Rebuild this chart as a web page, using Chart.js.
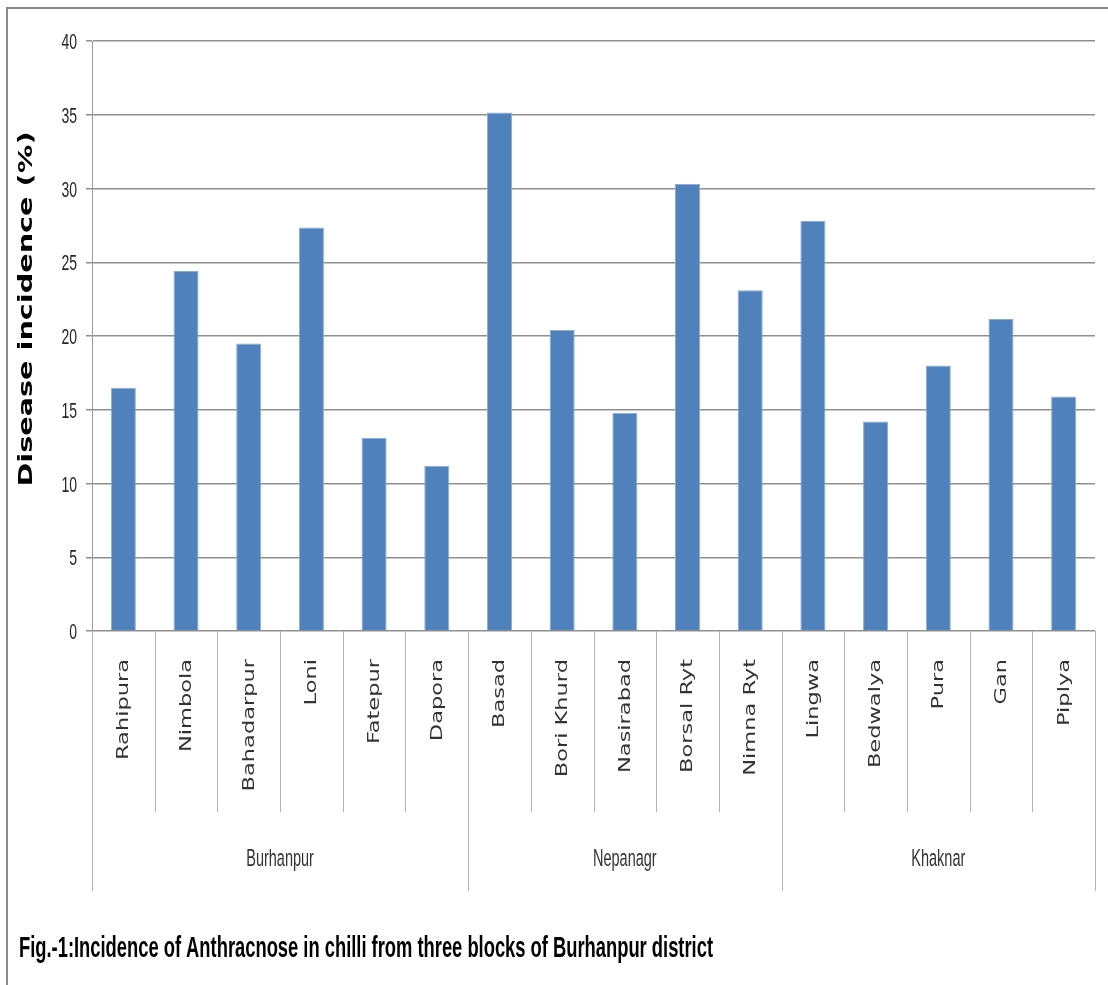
<!DOCTYPE html>
<html>
<head>
<meta charset="utf-8">
<title>Incidence of Anthracnose in chilli</title>
<script src="https://cdn.jsdelivr.net/npm/chart.js@4.4.1/dist/chart.umd.min.js"></script>
<style>
  html, body { margin: 0; padding: 0; background: #fff; }
  canvas { display: block; }
</style>
</head>
<body>
<canvas id="myChart" width="1108" height="985"></canvas>
<script>
// villages surveyed, in the order they appear on the chart
var villages = ["Rahipura", "Nimbola", "Bahadarpur", "Loni", "Fatepur", "Dapora",
                "Basad", "Bori Khurd", "Nasirabad", "Borsal Ryt", "Nimna Ryt",
                "Lingwa", "Bedwalya", "Pura", "Gan", "Piplya"];
// disease incidence (%)
var incidence = [16.5, 24.4, 19.5, 27.35, 13.1, 11.2,
                 35.15, 20.4, 14.8, 30.3, 23.1,
                 27.8, 14.2, 18.0, 21.15, 15.9];
// blocks and how many villages each block holds
var blocks = ["Burhanpur", "Nepanagr", "Khaknar"];
var blockSizes = [6, 5, 5];
var yTitle = "Disease incidence (%)";
var caption = "Fig.-1:Incidence of Anthracnose in chilli from three blocks of Burhanpur district";

// draws text with a stretch, the original figure is squashed sideways
function stretchText(ctx, text, x, y, o) {
	ctx.save();
	ctx.translate(x, y);
	if (o.rotate) ctx.rotate(o.rotate);
	ctx.font = o.font;
	var sx = o.sx || 1;
	if (o.fitWidth) sx = o.fitWidth / ctx.measureText(text).width;
	ctx.scale(sx, o.sy || 1);
	ctx.fillStyle = o.color || "#333";
	ctx.textAlign = o.align || "left";
	ctx.textBaseline = o.baseline || "alphabetic";
	ctx.fillText(text, 0, 0);
	ctx.restore();
}

var decorations = {
	id: "decorations",
	afterDraw: function(chart) {
		var ctx = chart.ctx;
		var xs = chart.scales.x;
		var ys = chart.scales.y;
		var area = chart.chartArea;

		// outer frame
		ctx.save();
		ctx.strokeStyle = "#8a8a8a";
		ctx.lineWidth = 2;
		ctx.beginPath();
		ctx.moveTo(7, 985);
		ctx.lineTo(7, 8);
		ctx.lineTo(1108, 8);
		ctx.stroke();
		ctx.restore();

		// y tick labels
		ys.ticks.forEach(function(t) {
			var py = ys.getPixelForValue(t.value);
			stretchText(ctx, String(t.value), 77, py + 8,
				{font: "14px 'Liberation Sans', Arial, sans-serif", sy: 1.6, align: "right", color: "#262626"});
		});

		// y title
		stretchText(ctx, yTitle, 32, 309,
			{font: "bold 20px 'DejaVu Sans', Verdana, sans-serif", rotate: -Math.PI / 2,
			 fitWidth: 355, align: "center", color: "#000"});

		// category boundaries
		var n = villages.length;
		var edges = [];
		for (var i = 0; i <= n; i++) {
			if (i == 0) edges.push(area.left);
			else if (i == n) edges.push(area.right);
			else edges.push((xs.getPixelForValue(i - 1) + xs.getPixelForValue(i)) / 2);
		}
		var groupEdges = [0];
		blockSizes.forEach(function(s) { groupEdges.push(groupEdges[groupEdges.length - 1] + s); });

		ctx.save();
		ctx.strokeStyle = "#b4b4b4";
		ctx.lineWidth = 1;
		for (var i = 0; i <= n; i++) {
			var bx = Math.round(edges[i]) + 0.5;
			var bottom = groupEdges.indexOf(i) >= 0 ? 891 : 812;
			ctx.beginPath();
			ctx.moveTo(bx, area.bottom);
			ctx.lineTo(bx, bottom);
			ctx.stroke();
		}
		ctx.restore();

		// village names, rotated
		villages.forEach(function(v, i) {
			stretchText(ctx, v, xs.getPixelForValue(i) + 1, 659,
				{font: "15px 'DejaVu Sans', Verdana, sans-serif", rotate: -Math.PI / 2,
				 sx: 1.5, align: "right", baseline: "middle", color: "#333"});
		});

		// block names
		blocks.forEach(function(b, k) {
			var cx = (edges[groupEdges[k]] + edges[groupEdges[k + 1]]) / 2;
			stretchText(ctx, b, cx, 866,
				{font: "14.5px 'Liberation Sans', Arial, sans-serif", sy: 1.65, align: "center", color: "#333"});
		});

		// figure caption
		stretchText(ctx, caption, 19, 957,
			{font: "bold 29px 'Liberation Sans', Arial, sans-serif", fitWidth: 694, color: "#000"});
	}
};

var myChart = document.getElementById("myChart").getContext("2d");
var chart = new Chart(myChart, {
	type: "bar",
	data: {
		labels: villages,
		datasets: [
			{
				label: "Disease incidence",
				data: incidence,
				backgroundColor: "#4f81bd",
				borderColor: "#8eabd3",
				borderWidth: 1,
				barPercentage: 0.4,
				categoryPercentage: 1.0
			}
		]
	},
	options: {
		responsive: false,
		animation: false,
		devicePixelRatio: 1,
		layout: { padding: { left: 86, right: 13, top: 41, bottom: 354 } },
		plugins: {
			legend: { display: false },
			tooltip: { enabled: false }
		},
		scales: {
			x: { display: false },
			y: {
				min: 0,
				max: 40,
				ticks: { display: false, stepSize: 5 },
				grid: { color: "#8f8f8f", lineWidth: 1.5, tickLength: 6, drawTicks: true },
				border: { color: "#9a9a9a", width: 1 }
			}
		}
	},
	plugins: [decorations]
});
</script>
</body>
</html>
